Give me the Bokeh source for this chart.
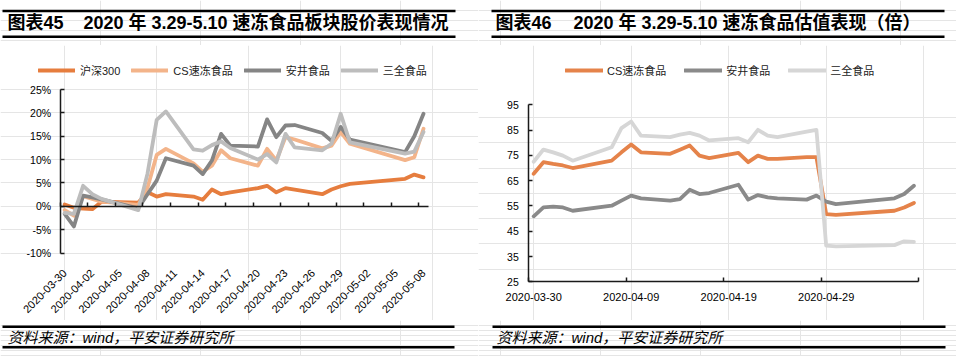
import math
import pandas as pd
from bokeh.plotting import figure
from bokeh.layouts import row, column
from bokeh.models import (Range1d, LinearAxis, FixedTicker, PrintfTickFormatter,
                          Legend, LegendItem, Label, ColumnDataSource)
from bokeh.embed import file_html
from bokeh.resources import INLINE

# ---------------- data ----------------
TRADE_DATES = ["2020-03-30", "2020-03-31", "2020-04-01", "2020-04-02", "2020-04-03",
               "2020-04-07", "2020-04-08", "2020-04-09", "2020-04-10",
               "2020-04-13", "2020-04-14", "2020-04-15", "2020-04-16", "2020-04-17",
               "2020-04-20", "2020-04-21", "2020-04-22", "2020-04-23", "2020-04-24",
               "2020-04-27", "2020-04-28", "2020-04-29", "2020-04-30",
               "2020-05-06", "2020-05-07", "2020-05-08"]

# chart 45: cumulative price change (%)
HS300 = [0.4, -0.3, -0.5, -0.6, 1.0, 0.8, 3.0, 2.1, 2.6, 2.1, 1.4, 3.6, 2.6, 3.0,
         3.9, 4.4, 3.0, 3.9, 3.6, 2.6, 3.6, 4.3, 4.8, 5.9, 6.8, 6.2]
CS_FROZEN = [-0.8, -2.0, 2.2, 1.6, 1.0, 0.3, 4.0, 11.0, 12.3, 9.2, 7.4, 8.7, 12.0, 10.3,
             8.7, 12.3, 9.8, 14.8, 14.3, 12.4, 13.0, 15.9, 13.4, 9.9, 10.5, 16.6]
ANJOY = [-1.6, -4.3, 2.3, 1.9, 1.5, -0.4, 2.6, 5.5, 10.3, 8.7, 6.9, 9.8, 15.5, 13.0,
         12.8, 18.6, 14.8, 17.3, 17.4, 15.7, 14.0, 17.0, 14.3, 11.6, 15.0, 19.8]
SANQUAN = [-1.4, -1.6, 4.4, 2.6, 1.6, -0.8, 7.0, 18.5, 20.3, 12.2, 11.9, 13.1, 13.9, 12.5,
           10.0, 11.2, 9.4, 15.5, 12.6, 12.0, 13.4, 19.8, 13.7, 11.3, 11.7, 15.9]

# chart 46: valuation (x)
CS_PE = [67.7, 72.3, 71.6, 71.0, 70.0, 72.9, 76.2, 79.3, 76.2, 75.6, 77.2, 78.9, 74.9, 73.9,
         76.0, 72.3, 74.9, 73.6, 73.6, 74.3, 74.3, 51.8, 51.5, 53.1, 54.4, 56.2]
ANJOY_PE = [50.9, 54.4, 54.7, 54.4, 53.1, 55.1, 57.1, 59.1, 58.0, 57.1, 57.7, 61.4, 59.7, 60.1,
            63.4, 57.5, 59.3, 58.4, 58.0, 57.5, 59.1, 56.7, 55.7, 58.0, 59.7, 63.0]
SANQUAN_PE = [72.5, 77.3, 76.2, 74.9, 72.9, 78.2, 85.8, 88.4, 82.8, 82.2, 83.2, 83.9, 82.8, 80.9,
              81.8, 80.2, 85.1, 82.8, 82.2, 84.4, 85.1, 39.3, 39.0, 39.5, 41.0, 40.8]

LEFT_SERIES = ["沪深300", "CS速冻食品", "安井食品", "三全食品"]
RIGHT_SERIES = ["CS速冻食品", "安井食品", "三全食品"]

LEFT_TICK_LABELS = ["2020-03-30", "2020-04-02", "2020-04-05", "2020-04-08", "2020-04-11",
                    "2020-04-14", "2020-04-17", "2020-04-20", "2020-04-23", "2020-04-26",
                    "2020-04-29", "2020-05-02", "2020-05-05", "2020-05-08"]
RIGHT_TICK_LABELS = ["2020-03-30", "2020-04-09", "2020-04-19", "2020-04-29"]
LEFT_Y_TICKS = [-10, -5, 0, 5, 10, 15, 20, 25]
RIGHT_Y_TICKS = [25, 35, 45, 55, 65, 75, 85, 95]

TITLE_LEFT_NO = "图表45"
TITLE_LEFT = "2020 年 3.29-5.10 速冻食品板块股价表现情况"
TITLE_RIGHT_NO = "图表46"
TITLE_RIGHT = "2020 年 3.29-5.10 速冻食品估值表现（倍）"
SOURCE = "资料来源：wind，平安证券研究所"

# ---------------- derived positions ----------------
base = pd.Timestamp(TRADE_DATES[0])
day = [(pd.Timestamp(d) - base).days for d in TRADE_DATES]
left_lab_pos = [(pd.Timestamp(d) - base).days for d in LEFT_TICK_LABELS]
right_lab_pos = [(pd.Timestamp(d) - base).days for d in RIGHT_TICK_LABELS]
n_slots = (pd.Timestamp(TRADE_DATES[-1]) - base).days + 1
x_lo, x_hi = -0.5, n_slots - 0.5
left_tick_pos = [p - 0.5 for p in left_lab_pos]
right_tick_pos = [p - 0.5 for p in right_lab_pos] + [x_hi]

# ---------------- layout constants ----------------
PW = 478
TITLE_H, CHART_H, SRC_H = 45, 275, 36
LAT = "Liberation Sans, Noto Sans CJK SC"
AX_COLOR = "#1a1a1a"

def blank(width, height, xr, yr):
    p = figure(width=width, height=height, x_range=xr, y_range=yr,
               x_axis_location=None, y_axis_location=None,
               toolbar_location=None, output_backend="svg",
               min_border_left=0, min_border_right=0,
               min_border_top=0, min_border_bottom=0)
    p.outline_line_color = None
    p.background_fill_color = "white"
    p.border_fill_color = "white"
    return p

def rules(p, x0, x1, ys):
    p.segment(x0=[x0] * len(ys), x1=[x1] * len(ys), y0=ys, y1=ys,
              line_color="black", line_width=2.5, line_cap="butt")

def title_fig(panel_x, rule_l, rule_r, no_x, txt_x, no_text, txt):
    p = blank(PW, TITLE_H, Range1d(panel_x, panel_x + PW), Range1d(TITLE_H, 0))
    rules(p, rule_l, rule_r, [10.5, 36.2])
    for xx, t in ((no_x, no_text), (txt_x, txt)):
        p.add_layout(Label(x=xx, y=22.5, text=t, text_font=LAT, text_font_style="bold",
                           text_font_size="18px", text_color="black",
                           text_baseline="middle", text_align="left"))
    return p

def source_fig(panel_x, rule_l, rule_r, txt_x):
    top = TITLE_H + CHART_H
    p = blank(PW, SRC_H, Range1d(panel_x, panel_x + PW), Range1d(top + SRC_H, top))
    rules(p, rule_l, rule_r, [326.3, 346.7])
    p.add_layout(Label(x=txt_x, y=336.5, text=SOURCE, text_font=LAT, text_font_style="italic",
                       text_font_size="15px", text_color="black",
                       text_baseline="middle", text_align="left"))
    return p

def chart_fig(axis_px, day_px, yv_top, ypx_top, yv_bot, ypx_bot):
    xs = x_lo - axis_px / day_px
    xe = xs + PW / day_px
    ppu = (ypx_bot - ypx_top) / (yv_top - yv_bot)
    ye = yv_top + ypx_top / ppu
    ys = yv_bot - (CHART_H - ypx_bot) / ppu
    return blank(PW, CHART_H, Range1d(xs, xe), Range1d(ys, ye))

def style_axis(ax, size="10.5px"):
    ax.axis_line_color = AX_COLOR
    ax.axis_line_width = 1.5
    ax.major_tick_line_color = AX_COLOR
    ax.major_tick_line_width = 1.5
    ax.minor_tick_line_color = None
    ax.major_label_text_font = "Liberation Sans"
    ax.major_label_text_font_size = size
    ax.major_label_text_color = "black"

def add_lines(p, names, series, colors):
    src = ColumnDataSource(dict(day=day, **{f"s{i}": s for i, s in enumerate(series)}))
    rs = []
    for i, c in enumerate(colors):
        r = p.line(x="day", y=f"s{i}", source=src, line_color=c, line_width=3.8,
                   line_cap="round", line_join="round")
        rs.append(r)
    return [LegendItem(label=n, renderers=[r]) for n, r in zip(names, rs)]

# ---------------- left chart ----------------
lc = chart_fig(59.6, 9.2, 25, 44.0, -10, 207.6)
l_items = add_lines(lc, LEFT_SERIES, [HS300, CS_FROZEN, ANJOY, SANQUAN],
                    ["#E67D3E", "#F3B48A", "#858585", "#BDBDBD"])

ly = LinearAxis(fixed_location=x_lo, bounds=(LEFT_Y_TICKS[0], LEFT_Y_TICKS[-1]),
                ticker=FixedTicker(ticks=LEFT_Y_TICKS),
                formatter=PrintfTickFormatter(format="%d%%"))
style_axis(ly)
ly.major_tick_in, ly.major_tick_out = 4, 0
ly.major_label_standoff = 9
lc.add_layout(ly, "left")

lx0 = LinearAxis(fixed_location=0, bounds=(x_lo, x_hi), ticker=FixedTicker(ticks=left_tick_pos))
style_axis(lx0)
lx0.major_tick_in, lx0.major_tick_out = 4, 0
lx0.major_label_text_color = None
lc.add_layout(lx0, "below")

lxl = LinearAxis(fixed_location=LEFT_Y_TICKS[0], ticker=FixedTicker(ticks=left_lab_pos),
                 major_label_overrides={p: t for p, t in zip(left_lab_pos, LEFT_TICK_LABELS)})
style_axis(lxl, "11px")
lxl.axis_line_color = None
lxl.major_tick_line_color = None
lxl.major_label_orientation = math.pi / 4
lxl.major_label_standoff = 12
lc.add_layout(lxl, "below")

l_leg = Legend(items=l_items, orientation="horizontal", location=(38, 242),
               glyph_width=37, glyph_height=14, label_height=14, label_standoff=5,
               spacing=11, padding=0, margin=0, border_line_color=None,
               background_fill_alpha=0, label_text_font=LAT, label_text_font_size="11px",
               label_text_color="#222222")
lc.add_layout(l_leg)

# ---------------- right chart ----------------
rc = chart_fig(50.3, 9.75, 95, 59.3, 25, 236.3)
r_items = add_lines(rc, RIGHT_SERIES, [CS_PE, ANJOY_PE, SANQUAN_PE],
                    ["#E5834A", "#8A8A8A", "#D6D6D6"])

ry = LinearAxis(fixed_location=x_lo, bounds=(RIGHT_Y_TICKS[0], RIGHT_Y_TICKS[-1]),
                ticker=FixedTicker(ticks=RIGHT_Y_TICKS))
style_axis(ry)
ry.major_tick_in, ry.major_tick_out = 4, 0
ry.major_label_standoff = 10
rc.add_layout(ry, "left")

rx0 = LinearAxis(fixed_location=RIGHT_Y_TICKS[0], bounds=(x_lo, x_hi),
                 ticker=FixedTicker(ticks=right_tick_pos))
style_axis(rx0)
rx0.major_tick_in, rx0.major_tick_out = 4, 0
rx0.major_label_text_color = None
rc.add_layout(rx0, "below")

rxl = LinearAxis(fixed_location=RIGHT_Y_TICKS[0], ticker=FixedTicker(ticks=right_lab_pos),
                 major_label_overrides={p: t for p, t in zip(right_lab_pos, RIGHT_TICK_LABELS)})
style_axis(rxl, "11px")
rxl.axis_line_color = None
rxl.major_tick_line_color = None
rxl.major_label_standoff = 5
rc.add_layout(rxl, "below")

r_leg = Legend(items=r_items, orientation="horizontal", location=(87, 242),
               glyph_width=38, glyph_height=14, label_height=14, label_standoff=4,
               spacing=18, padding=0, margin=0, border_line_color=None,
               background_fill_alpha=0, label_text_font=LAT, label_text_font_size="11px",
               label_text_color="#222222")
rc.add_layout(r_leg)

# ---------------- assemble ----------------
lt = title_fig(0, 2, 455, 7, 83, TITLE_LEFT_NO, TITLE_LEFT)
rt = title_fig(PW, 491, 944, 495, 573, TITLE_RIGHT_NO, TITLE_RIGHT)
ls = source_fig(0, 2, 454, 7)
rs = source_fig(PW, 492, 945, 496)

layout = row(column(lt, lc, ls), column(rt, rc, rs))
open("out.html", "w").write(file_html(layout, INLINE))
